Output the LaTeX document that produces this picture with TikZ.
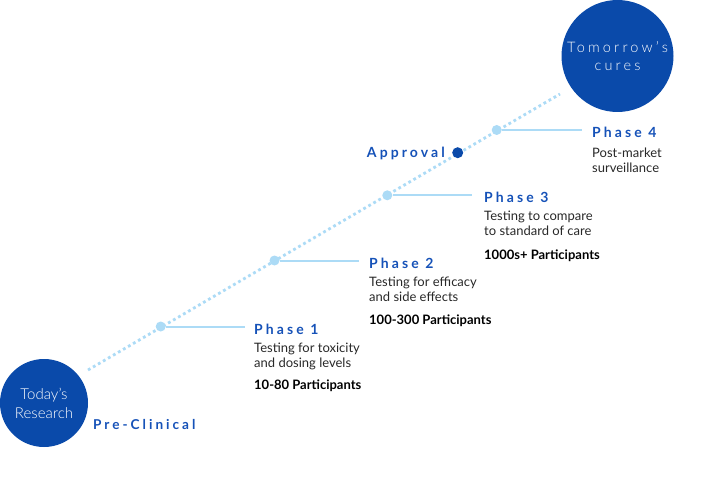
\documentclass[tikz,border=0pt]{standalone}
\usepackage{fontspec}
\setmainfont{Lato}
\newfontfamily\spaced[LetterSpace=22]{Lato}
\newfontfamily\spacedlight[LetterSpace=22]{Lato Light}
\newfontfamily\lightfont{Lato Light}
\definecolor{dkblue}{RGB}{10,74,170}
\definecolor{phblue}{RGB}{22,82,184}
\definecolor{ltblue}{RGB}{172,219,246}
\definecolor{txt}{RGB}{40,40,40}
\begin{document}
\begin{tikzpicture}[x=1pt,y=-1pt,
  bigcirc/.style={circle,fill=dkblue,inner sep=0,text=white,align=center},
  dotline/.style={ltblue,line width=2.8pt,dash pattern=on 2.8pt off 3pt},
  hline/.style={ltblue,line width=2pt},
  ltdot/.style={circle,fill=ltblue,inner sep=0,minimum size=10pt},
  phlabel/.style={anchor=base west,inner sep=0,text=phblue,font=\spaced\bfseries\fontsize{14}{16}\selectfont},
  desc/.style={anchor=base west,inner sep=0,text=txt,font=\fontsize{13}{15}\selectfont},
  part/.style={anchor=base west,inner sep=0,text=black,font=\bfseries\fontsize{13}{15}\selectfont}]
\useasboundingbox (0,0) rectangle (710,500);
% dotted path
\coordinate (ls) at (88,370);
\coordinate (le) at (560,94);
\draw[dotline] (ls) -- (le);
% circles
\node[bigcirc,minimum size=88pt,font=\lightfont\fontsize{15}{19}\selectfont] (today) at (44,403) {Today’s\\Research};
\node[bigcirc,minimum size=112pt,font=\spacedlight\fontsize{14.5}{18}\selectfont] (tomorrow) at (617.5,56) {Tomorrow’s\\cures};
% phase dots
\node[ltdot] (d1) at (160.7,326.5) {};
\node[ltdot] (d2) at (274.5,260.5) {};
\node[ltdot] (d3) at (387.3,195.3) {};
\node[ltdot] (d4) at (496.7,130) {};
\node[circle,fill=dkblue,inner sep=0,minimum size=11pt] (ap) at (457.7,152.7) {};
% horizontal lines
\coordinate (e1) at (245,326.5);
\coordinate (e2) at (359,260.5);
\coordinate (e3) at (472,195.3);
\coordinate (e4) at (582,130);
\draw[hline] (d1) -- (e1);
\draw[hline] (d2) -- (e2);
\draw[hline] (d3) -- (e3);
\draw[hline] (d4) -- (e4);
% labels
\node[phlabel] (p1) at (254,334) {Phase 1};
\node[desc] (p1a) at (254,352) {Testing for toxicity};
\node[desc] (p1b) at (254,367) {and dosing levels};
\node[part] (p1c) at (254,389) {10-80 Participants};
\node[phlabel] (p2) at (369,268.5) {Phase 2};
\node[desc] (p2a) at (369,286) {Testing for efficacy};
\node[desc] (p2b) at (369,301) {and side effects};
\node[part] (p2c) at (369,324.5) {100-300 Participants};
\node[phlabel] (p3) at (484,203) {Phase 3};
\node[desc] (p3a) at (484,221) {Testing to compare};
\node[desc] (p3b) at (484,236) {to standard of care};
\node[part] (p3c) at (484,259.5) {1000s+ Participants};
\node[phlabel] (p4) at (592,137.5) {Phase 4};
\node[desc] (p4a) at (592,157.5) {Post-market};
\node[desc] (p4b) at (592,173) {surveillance};
\node[phlabel,anchor=base east] (appr) at (445,158) {Approval};
\node[phlabel,font=\spaced\bfseries\fontsize{13.6}{16}\selectfont] (pre) at (93,429) {Pre-Clinical};
\end{tikzpicture}
\end{document}
